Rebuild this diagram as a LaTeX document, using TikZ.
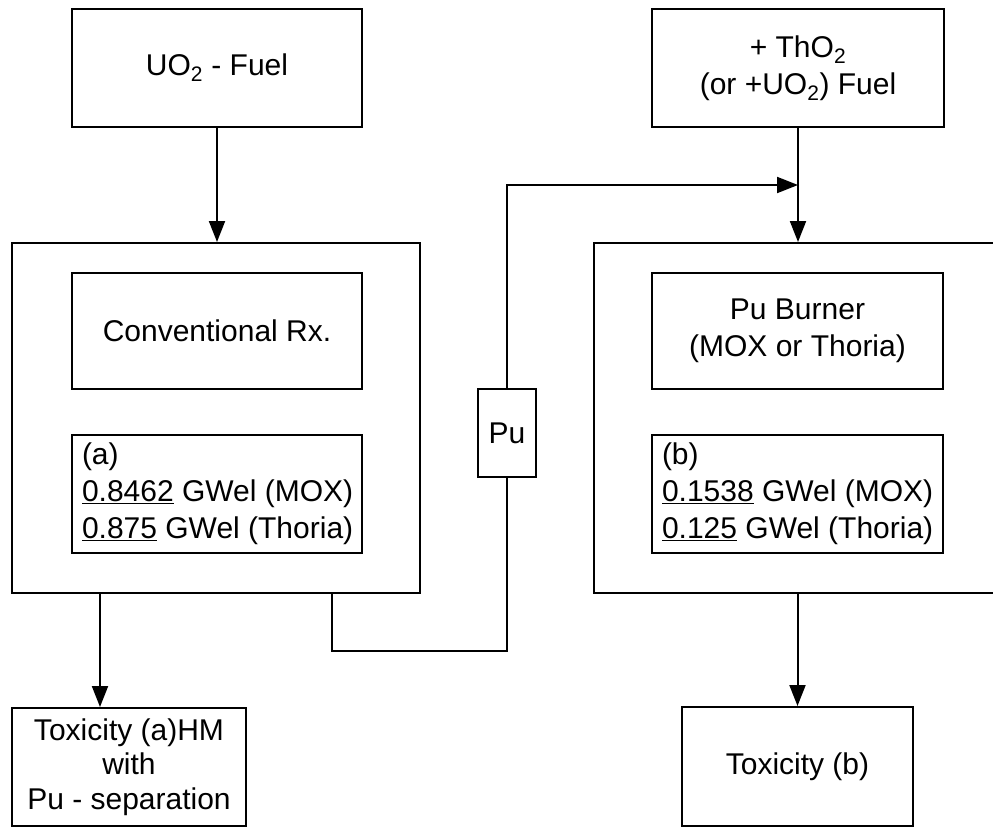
\documentclass[tikz,border=0pt]{standalone}
\usepackage{fontspec}
\setmainfont{Liberation Sans}
\usetikzlibrary{arrows.meta}
\begin{document}
\begin{tikzpicture}[x=1pt,y=-1pt,line width=2pt,
  box/.style={draw,rectangle,inner sep=0pt,align=center},
  arr/.style={-{Triangle[length=21pt,width=16pt]}},
  font=\fontsize{30}{37}\selectfont]
\useasboundingbox (0,0) rectangle (993,827);
% left column
\node[box,minimum width=290pt,minimum height=118.5pt] (uo2) at (217,68) {UO\textsubscript{2} - Fuel};
\node[box,minimum width=408pt,minimum height=350pt] (bigL) at (216,418) {};
\node[box,minimum width=290pt,minimum height=116pt] (conv) at (217,331) {Conventional Rx.};
\node[box,minimum width=290pt,minimum height=118pt] (abox) at (217,494) {};
\node[anchor=west,align=left,inner sep=0pt] (atext) at ([xshift=10pt]abox.west)
  {(a)\\\underline{0.8462} GWel (MOX)\\\underline{0.875} GWel (Thoria)};
\node[box,minimum width=234pt,minimum height=118pt,font=\fontsize{30}{34.5}\selectfont] (toxa) at (129,767)
  {Toxicity (a)HM\\with\\Pu - separation};
% Pu box
\node[box,minimum width=58pt,minimum height=88pt] (pu) at (507,433) {Pu};
% right column
\node[box,minimum width=292pt,minimum height=118.5pt] (tho) at (798,68) {+ ThO\textsubscript{2}\\(or +UO\textsubscript{2}) Fuel};
\begin{scope}
\clip (0,0) rectangle (993,827);
\node[box,minimum width=407pt,minimum height=350pt] (bigR) at (797.5,418) {};
\end{scope}
\node[box,minimum width=291pt,minimum height=116pt] (burn) at (797.5,331) {Pu Burner\\(MOX or Thoria)};
\node[box,minimum width=291pt,minimum height=118pt] (bbox) at (797.5,494) {};
\node[anchor=west,align=left,inner sep=0pt] (btext) at ([xshift=10pt]bbox.west)
  {(b)\\\underline{0.1538} GWel (MOX)\\\underline{0.125} GWel (Thoria)};
\node[box,minimum width=231pt,minimum height=119pt] (toxb) at (797.5,766.5) {Toxicity (b)};
% connectors
\coordinate (j) at (798,185);
\coordinate (la) at (100,593);
\coordinate (lb) at (332,593);
\coordinate (lc) at (332,651);
\draw[arr] (uo2.south) -- (uo2.south |- bigL.north);
\draw[arr] (la) -- (la |- toxa.north);
\draw[arr] (tho.south) -- (tho.south |- bigR.north);
\draw[arr] (pu.north) |- (j);
\draw (lb) -- (lc) -| (pu.south);
\draw[arr] (bigR.south) -- (toxb.north);
\end{tikzpicture}
\end{document}
